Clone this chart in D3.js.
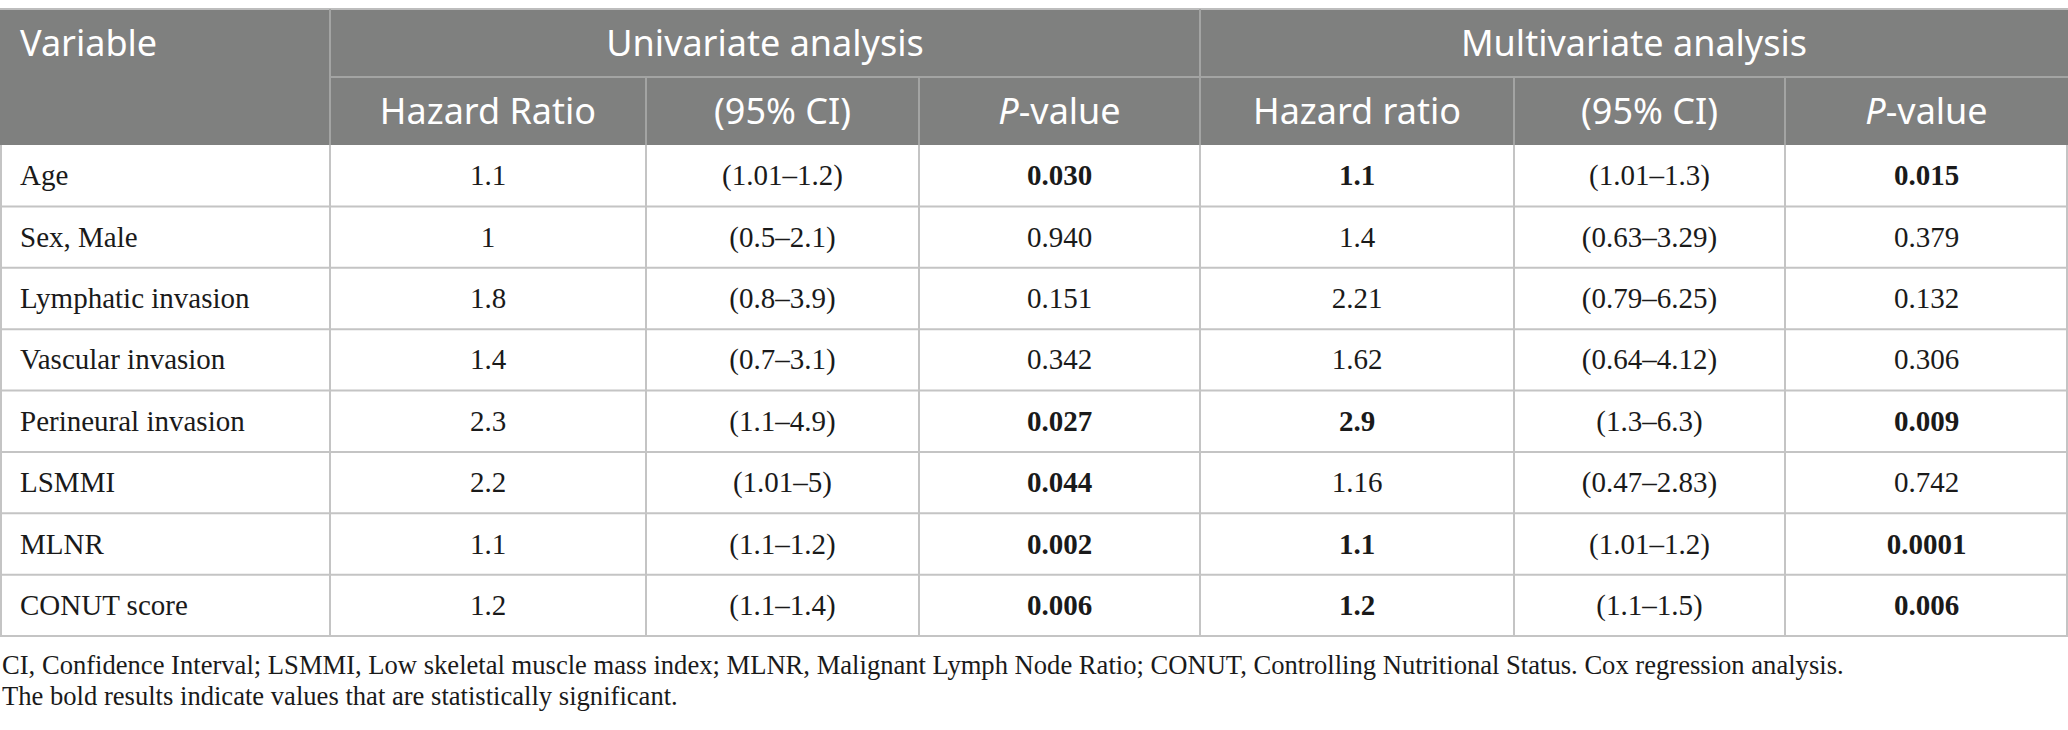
<!DOCTYPE html>
<html>
<head>
<meta charset="utf-8">
<script src="https://cdn.jsdelivr.net/npm/d3@7"></script>
<style>
  body { margin: 0; background: #fff; }
  svg { display: block; }
  .hd { font-family: "Noto Sans", sans-serif; font-size: 36px; fill: #fff; }
  .cell { font-family: "Liberation Serif", serif; font-size: 29px; fill: #1a1a1a; }
  .note { font-family: "Liberation Serif", serif; font-size: 26.6px; fill: #1a1a1a; }
</style>
</head>
<body>
<script>
// table content
const variables = ["Age", "Sex, Male", "Lymphatic invasion", "Vascular invasion",
  "Perineural invasion", "LSMMI", "MLNR", "CONUT score"];
const groupLabels = ["Univariate analysis", "Multivariate analysis"];
const subLabels = ["Hazard Ratio", "(95% CI)", "P-value", "Hazard ratio", "(95% CI)", "P-value"];

const uniHR = ["1.1", "1", "1.8", "1.4", "2.3", "2.2", "1.1", "1.2"];
const uniCI = ["(1.01–1.2)", "(0.5–2.1)", "(0.8–3.9)", "(0.7–3.1)", "(1.1–4.9)", "(1.01–5)", "(1.1–1.2)", "(1.1–1.4)"];
const uniP = ["0.030", "0.940", "0.151", "0.342", "0.027", "0.044", "0.002", "0.006"];
const multiHR = ["1.1", "1.4", "2.21", "1.62", "2.9", "1.16", "1.1", "1.2"];
const multiCI = ["(1.01–1.3)", "(0.63–3.29)", "(0.79–6.25)", "(0.64–4.12)", "(1.3–6.3)", "(0.47–2.83)", "(1.01–1.2)", "(1.1–1.5)"];
const multiP = ["0.015", "0.379", "0.132", "0.306", "0.009", "0.742", "0.0001", "0.006"];
// which cells are bold (significant)
const uniPBold = [1, 0, 0, 0, 1, 1, 1, 1];
const multiHRBold = [1, 0, 0, 0, 1, 0, 1, 1];
const multiPBold = [1, 0, 0, 0, 1, 0, 1, 1];

const footnotes = [
  "CI, Confidence Interval; LSMMI, Low skeletal muscle mass index; MLNR, Malignant Lymph Node Ratio; CONUT, Controlling Nutritional Status. Cox regression analysis.",
  "The bold results indicate values that are statistically significant."
];

const W = 2068, H = 730;
const tableTop = 9, headH = 68, bodyTop = tableTop + headH * 2, bodyBottom = 636;
const colEdges = [0, 330, 646, 919, 1200, 1514, 1785, W];

const columns = [
  { vals: uniHR, bold: null },
  { vals: uniCI, bold: null },
  { vals: uniP, bold: uniPBold },
  { vals: multiHR, bold: multiHRBold },
  { vals: multiCI, bold: null },
  { vals: multiP, bold: multiPBold }
];

const svg = d3.select("body").append("svg").attr("width", W).attr("height", H);

const y = d3.scaleBand().domain(variables).range([bodyTop, bodyBottom]);
const xCol = d3.scaleOrdinal().domain(d3.range(colEdges.length)).range(colEdges);

// header background
svg.append("rect").attr("x", 0).attr("y", tableTop).attr("width", W).attr("height", headH * 2).attr("fill", "#7f807f");

// header lines
const hl = svg.append("g").attr("stroke", "#a3a4a3").attr("stroke-width", 2);
hl.append("line").attr("x1", 0).attr("x2", W).attr("y1", tableTop).attr("y2", tableTop).attr("stroke", "#bdbdbd");
hl.append("line").attr("x1", xCol(1)).attr("x2", W).attr("y1", tableTop + headH).attr("y2", tableTop + headH);
hl.selectAll("line.gv").data([1, 4]).enter().append("line").attr("class", "gv")
  .attr("x1", d => xCol(d)).attr("x2", d => xCol(d)).attr("y1", tableTop).attr("y2", bodyTop);
hl.selectAll("line.sv").data([2, 3, 5, 6]).enter().append("line").attr("class", "sv")
  .attr("x1", d => xCol(d)).attr("x2", d => xCol(d)).attr("y1", tableTop + headH).attr("y2", bodyTop);

// header text
svg.append("text").attr("class", "hd").attr("x", 20).attr("y", tableTop + headH / 2)
  .attr("dy", "0.36em").text("Variable");
svg.selectAll("text.grp").data(groupLabels).enter().append("text").attr("class", "hd grp")
  .attr("x", (d, i) => (xCol(1 + i * 3) + xCol(4 + i * 3)) / 2)
  .attr("y", tableTop + headH / 2).attr("dy", "0.36em").attr("text-anchor", "middle").text(d => d);
const sub = svg.selectAll("text.sub").data(subLabels).enter().append("text").attr("class", "hd sub")
  .attr("x", (d, i) => (xCol(i + 1) + xCol(i + 2)) / 2)
  .attr("y", tableTop + headH * 1.5).attr("dy", "0.36em").attr("text-anchor", "middle");
sub.each(function (d) {
  const t = d3.select(this);
  if (d.startsWith("P-")) {
    t.append("tspan").attr("font-style", "italic").text("P");
    t.append("tspan").text(d.slice(1));
  } else t.text(d);
});

// body grid
const bl = svg.append("g").attr("stroke", "#c4c4c4").attr("stroke-width", 2);
bl.selectAll("line.h").data(variables).enter().append("line")
  .attr("x1", 0).attr("x2", W).attr("y1", d => y(d) + y.bandwidth()).attr("y2", d => y(d) + y.bandwidth());
bl.selectAll("line.v").data(colEdges).enter().append("line")
  .attr("x1", d => Math.min(Math.max(d, 1), W - 1)).attr("x2", d => Math.min(Math.max(d, 1), W - 1))
  .attr("y1", bodyTop).attr("y2", bodyBottom);

// body text
const rows = svg.selectAll("g.row").data(variables).enter().append("g").attr("class", "row")
  .attr("transform", d => `translate(0,${y(d) + y.bandwidth() / 2})`);
rows.append("text").attr("class", "cell").attr("x", 20).attr("dy", "0.33em").text(d => d);
columns.forEach((c, ci) => {
  rows.append("text").attr("class", "cell")
    .attr("x", (xCol(ci + 1) + xCol(ci + 2)) / 2)
    .attr("dy", "0.33em").attr("text-anchor", "middle")
    .attr("font-weight", (d, i) => c.bold && c.bold[i] ? "bold" : null)
    .text((d, i) => c.vals[i]);
});

// footnotes
svg.selectAll("text.note").data(footnotes).enter().append("text").attr("class", "note")
  .attr("x", 2).attr("y", (d, i) => 674 + i * 31).text(d => d);
</script>
</body>
</html>
